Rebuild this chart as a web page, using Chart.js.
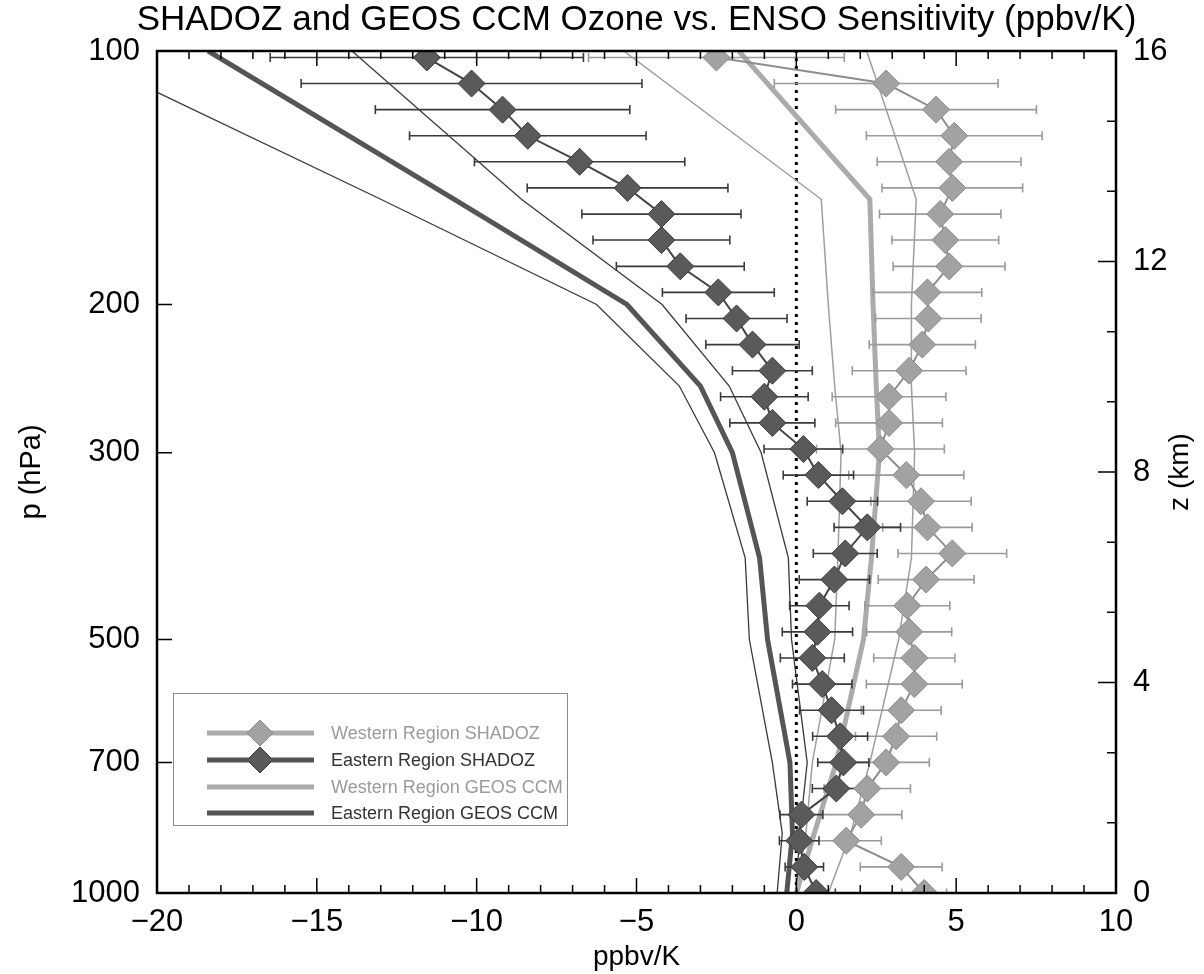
<!DOCTYPE html>
<html>
<head>
<meta charset="utf-8">
<script src="https://cdn.jsdelivr.net/npm/chart.js@4.4.1/dist/chart.umd.min.js"></script>
<style>
html,body{margin:0;padding:0;background:#fff;}
#wrap{position:relative;width:1204px;height:974px;}
canvas{display:block;}
#legend{position:absolute;left:173px;top:693px;width:395px;height:133px;border:1px solid #8c8c8c;box-sizing:border-box;font-family:"Liberation Sans",Arial,sans-serif;font-size:18px;}
.lrow{position:absolute;left:0;height:28px;width:390px;}
.lrow svg{position:absolute;left:33px;top:0;}
.lrow span{position:absolute;left:157px;top:4px;white-space:nowrap;}
</style>
</head>
<body>
<div id="wrap">
<canvas id="c" width="1204" height="974"></canvas>
<div id="legend"></div>
</div>
<script>
// ---------------- data ----------------
// SHADOZ levels (hPa), bottom to top
const pLevels = [1000, 931.1, 866.9, 807.1, 751.5, 699.7, 651.5, 606.6, 564.8, 525.8, 489.6,
  455.8, 424.4, 395.1, 367.9, 342.6, 318.9, 297.0, 276.5, 257.4, 239.7, 223.2, 207.8,
  193.5, 180.2, 167.7, 156.2, 145.4, 135.4, 126.1, 117.4, 109.3, 101.8];

const westShadoz = [4.0, 3.28, 1.56, 2.03, 2.22, 2.81, 3.12, 3.28, 3.69, 3.69, 3.53,
  3.47, 4.06, 4.88, 4.1, 3.9, 3.44, 2.63, 2.9, 2.9, 3.53, 3.94, 4.13,
  4.1, 4.78, 4.66, 4.5, 4.88, 4.78, 4.94, 4.37, 2.81, -2.5];
const westShadozErr = [0.7, 1.28, 1.1, 1.27, 1.35, 1.35, 1.27, 1.25, 1.5, 1.27, 1.33,
  1.33, 1.5, 1.7, 1.4, 1.57, 1.8, 2.0, 1.67, 1.78, 1.78, 1.66, 1.65,
  1.7, 1.75, 1.67, 1.9, 2.2, 2.25, 2.75, 3.14, 3.5, 4.0];

const eastShadoz = [0.62, 0.25, 0.09, 0.16, 1.25, 1.47, 1.37, 1.1, 0.81, 0.5, 0.66,
  0.72, 1.19, 1.53, 2.22, 1.44, 0.69, 0.22, -0.75, -1.0, -0.75, -1.37, -1.87,
  -2.44, -3.63, -4.22, -4.22, -5.28, -6.78, -8.4, -9.19, -10.16, -11.56];
const eastShadozErr = [0.6, 0.6, 0.62, 0.67, 0.75, 0.8, 0.86, 1.0, 0.93, 1.0, 1.1,
  0.93, 1.1, 1.0, 1.04, 1.1, 1.1, 1.23, 1.33, 1.37, 1.25, 1.46, 1.58,
  1.75, 2.0, 2.14, 2.49, 3.14, 3.29, 3.7, 3.98, 5.33, 4.9];

// GEOS CCM levels (hPa)
const geosLevels = [1000, 850, 700, 500, 400, 300, 250, 200, 150, 100];
const westGeosMean = [0.0, 0.56, 1.25, 2.1, 2.35, 2.6, 2.5, 2.4, 2.3, -1.8];
const westGeosLow  = [0.0, 0.3, 0.5, 1.2, 1.3, 1.4, 1.2, 1.0, 0.78, -5.4];
const westGeosHigh = [1.0, 1.7, 2.3, 3.2, 3.6, 3.7, 3.6, 3.6, 3.75, 2.2];
const eastGeosMean = [-0.3, -0.12, -0.2, -0.9, -1.15, -2.0, -3.0, -5.3, -10.7, -18.4];
const eastGeosLow  = [-0.6, -0.44, -0.75, -1.47, -1.6, -2.56, -3.66, -6.25, -13.0, -22.7];
const eastGeosHigh = [0.0, 0.1, 0.34, -0.15, -0.25, -1.1, -2.1, -4.2, -8.6, -13.9];

// axes
const xTicks = [-20, -15, -10, -5, 0, 5, 10];
const pTicks = [100, 200, 300, 500, 700, 1000];
const zTicks = [0, 4, 8, 12, 16];
const zeroLine = [0, 0];
const zeroLevels = [1000, 100];

const titleText = 'SHADOZ and GEOS CCM Ozone vs. ENSO Sensitivity (ppbv/K)';
const xTitle = 'ppbv/K';
const yTitle = 'p (hPa)';
const zTitle = 'z (km)';
const legendLabels = ['Western Region SHADOZ', 'Eastern Region SHADOZ',
  'Western Region GEOS CCM', 'Eastern Region GEOS CCM'];

// ---------------- styles ----------------
const FONT = '"Liberation Sans", Arial, sans-serif';
const W = { line: '#8e8e8e', fill: '#a2a2a2', edge: '#8a8a8a', bar: '#9a9a9a', geos: '#ababab', thin: '#9e9e9e', text: '#9a9a9a' };
const E = { line: '#444444', fill: '#5a5a5a', edge: '#3c3c3c', bar: '#3a3a3a', geos: '#555555', thin: '#3a3a3a', text: '#333333' };

// ---------------- helpers ----------------
const profile = (vals, levels) => vals.map((v, i) => ({ x: v, y: levels[i] }));
const errBars = (vals, errs, levels) => {
  const out = [];
  vals.forEach((v, i) => {
    out.push({ x: v - errs[i], y: levels[i] }, { x: v + errs[i], y: levels[i] }, { x: null, y: null });
  });
  return out;
};

const datasets = [
  { label: legendLabels[1], data: profile(eastShadoz, pLevels), borderColor: E.line, borderWidth: 2,
    pointStyle: 'rectRot', pointRadius: 13.5, pointBackgroundColor: E.fill, pointBorderColor: E.edge, pointBorderWidth: 1 },
  { label: legendLabels[0], data: profile(westShadoz, pLevels), borderColor: W.line, borderWidth: 2,
    pointStyle: 'rectRot', pointRadius: 13.5, pointBackgroundColor: W.fill, pointBorderColor: W.edge, pointBorderWidth: 1 },
  { label: 'east err', data: errBars(eastShadoz, eastShadozErr, pLevels), borderColor: E.bar, borderWidth: 1.6,
    spanGaps: false, pointStyle: 'line', rotation: 90, pointRadius: 4.5, pointBorderColor: E.bar, pointBorderWidth: 1.6 },
  { label: 'west err', data: errBars(westShadoz, westShadozErr, pLevels), borderColor: W.bar, borderWidth: 1.6,
    spanGaps: false, pointStyle: 'line', rotation: 90, pointRadius: 4.5, pointBorderColor: W.bar, pointBorderWidth: 1.6 },
  { label: legendLabels[3], data: profile(eastGeosMean, geosLevels), borderColor: E.geos, borderWidth: 5, pointRadius: 0 },
  { label: legendLabels[2], data: profile(westGeosMean, geosLevels), borderColor: W.geos, borderWidth: 5, pointRadius: 0 },
  { label: 'east low', data: profile(eastGeosLow, geosLevels), borderColor: E.thin, borderWidth: 1.3, pointRadius: 0 },
  { label: 'east high', data: profile(eastGeosHigh, geosLevels), borderColor: E.thin, borderWidth: 1.3, pointRadius: 0 },
  { label: 'west low', data: profile(westGeosLow, geosLevels), borderColor: W.thin, borderWidth: 1.5, pointRadius: 0 },
  { label: 'west high', data: profile(westGeosHigh, geosLevels), borderColor: W.thin, borderWidth: 1.5, pointRadius: 0 },
  { label: 'zero', data: profile(zeroLine, zeroLevels), borderColor: '#000', borderWidth: 3, borderDash: [3, 5], pointRadius: 0 }
];

// ---------------- axis decoration plugin ----------------
const axisDecor = {
  id: 'axisDecor',
  afterDraw(chart) {
    const { ctx, chartArea: ca, scales } = chart;
    ctx.save();
    ctx.strokeStyle = '#000';
    ctx.lineWidth = 1.5;
    ctx.beginPath();
    const xs = scales.x;
    for (let v = xs.min; v <= xs.max; v += 1) {
      const px = xs.getPixelForValue(v);
      const len = (v % 5 === 0) ? 15 : 8;
      ctx.moveTo(px, ca.bottom); ctx.lineTo(px, ca.bottom - len);
      ctx.moveTo(px, ca.top); ctx.lineTo(px, ca.top + len);
    }
    pTicks.forEach(p => {
      const py = scales.y.getPixelForValue(p);
      ctx.moveTo(ca.left, py); ctx.lineTo(ca.left + 15, py);
    });
    const zs = scales.y2;
    for (let k = 0; k <= 12; k++) {
      const z = zs.min + k * (zTicks[1] - zTicks[0]) / 3;
      const py = zs.getPixelForValue(z);
      const len = (k % 3 === 0) ? 18 : 9;
      ctx.moveTo(ca.right, py); ctx.lineTo(ca.right - len, py);
    }
    ctx.stroke();
    ctx.lineWidth = 2.5;
    ctx.strokeRect(ca.left, ca.top, ca.right - ca.left, ca.bottom - ca.top);
    ctx.fillStyle = '#000';
    ctx.textAlign = 'center';
    ctx.textBaseline = 'middle';
    // main title, centred on the plot area
    ctx.font = '35px ' + FONT;
    ctx.fillText(titleText, (ca.left + ca.right) / 2, 20);
    // right axis title, reading bottom to top
    ctx.font = '28px ' + FONT;
    ctx.translate(1180, (ca.top + ca.bottom) / 2);
    ctx.rotate(-Math.PI / 2);
    ctx.fillText(zTitle, 0, 0);
    ctx.restore();
  }
};

Chart.defaults.font.family = FONT;
Chart.defaults.color = '#000';

new Chart(document.getElementById('c'), {
  type: 'line',
  data: { datasets },
  options: {
    responsive: false,
    animation: false,
    devicePixelRatio: 1,
    indexAxis: 'y',
    layout: { padding: { top: 51, left: 0, right: 0, bottom: 0 } },
    plugins: {
      legend: { display: false },
      tooltip: { enabled: false },
      title: { display: false }
    },
    scales: {
      x: {
        type: 'linear', position: 'bottom', min: -20, max: 10,
        afterBuildTicks: s => { s.ticks = xTicks.map(v => ({ value: v })); },
        ticks: { font: { size: 31 }, color: '#000', padding: 3, maxRotation: 0,
          callback: v => (v < 0 ? '\u2212' + Math.abs(v) : String(v)) },
        grid: { display: false }, border: { display: false },
        title: { display: true, text: xTitle, font: { size: 28 }, color: '#000', padding: { top: 0, bottom: 0 } },
        afterFit: s => { s.height = 81; }
      },
      y: {
        type: 'logarithmic', position: 'left', min: 100, max: 1000, reverse: true,
        afterBuildTicks: s => { s.ticks = pTicks.map(v => ({ value: v })); },
        ticks: { font: { size: 31 }, color: '#000', padding: 9, autoSkip: false, callback: v => String(v) },
        grid: { display: false }, border: { display: false },
        title: { display: true, text: yTitle, font: { size: 29 }, color: '#000', padding: { top: 15, bottom: 0 } },
        afterFit: s => { s.width = 157; }
      },
      y2: {
        type: 'linear', position: 'right', min: 0, max: 16,
        afterBuildTicks: s => { s.ticks = zTicks.map(v => ({ value: v })); },
        ticks: { font: { size: 31 }, color: '#000', padding: 9, autoSkip: false },
        grid: { display: false }, border: { display: false },
        afterFit: s => { s.width = 88; }
      }
    }
  },
  plugins: [axisDecor]
});

// ---------------- HTML legend ----------------
const legendStyles = [
  { color: W.geos, diamond: W.fill, edge: W.edge, text: W.text },
  { color: E.geos, diamond: E.fill, edge: E.edge, text: E.text },
  { color: W.geos, diamond: null, text: W.text },
  { color: E.geos, diamond: null, text: E.text }
];
const rowTops = [25, 52, 79, 105];
const leg = document.getElementById('legend');
legendLabels.forEach((lab, i) => {
  const st = legendStyles[i];
  const row = document.createElement('div');
  row.className = 'lrow';
  row.style.top = rowTops[i] + 'px';
  let svg = '<svg width="110" height="28" viewBox="0 0 110 28"><line x1="0" y1="14" x2="107" y2="14" stroke="' + st.color + '" stroke-width="5"/>';
  if (st.diamond) svg += '<polygon points="53,1 66,14 53,27 40,14" fill="' + st.diamond + '" stroke="' + st.edge + '" stroke-width="1"/>';
  svg += '</svg>';
  row.innerHTML = svg + '<span style="color:' + st.text + '">' + lab + '</span>';
  leg.appendChild(row);
});
</script>
</body>
</html>
